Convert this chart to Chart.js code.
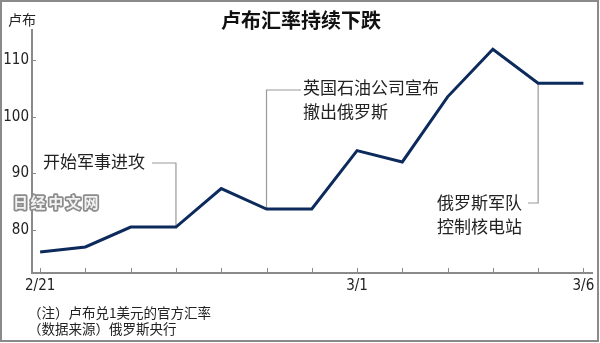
<!DOCTYPE html>
<html>
<head>
<meta charset="utf-8">
<script src="https://cdn.jsdelivr.net/npm/chart.js@4/dist/chart.umd.min.js"></script>
<style>
  html, body { margin: 0; padding: 0; background: #fff; }
  canvas { display: block; }
</style>
</head>
<body>
<canvas id="rubleChart" width="600" height="343"></canvas>
<script>
// ruble per 1 USD, official rate
const tickLabels = ['2/21', '', '', '', '', '', '', '3/1', '', '', '', '', '3/6'];
const rates = [76.1, 77.0, 80.5, 80.5, 87.3, 83.7, 83.7, 94.0, 92.0, 103.5, 111.9, 105.9, 105.9];
const yTicks = [80, 90, 100, 110];

const title = '卢布汇率持续下跌';
const unit = '卢布';
const notes = ['（注）卢布兑1美元的官方汇率', '（数据来源）俄罗斯央行'];
const events = [
  { idx: 3, lines: ['开始军事进攻'] },
  { idx: 5, lines: ['英国石油公司宣布', '撤出俄罗斯'] },
  { idx: 11, lines: ['俄罗斯军队', '控制核电站'] }
];

const CJK = '"Noto Sans CJK SC", "Noto Sans", sans-serif';
const NUM = '"Liberation Sans Narrow", "DejaVu Sans Condensed", sans-serif';
const GREY = '#8a8a8a';

const ctx = document.getElementById('rubleChart').getContext('2d');

// callouts, ticks, texts
const decor = {
  id: 'decor',
  beforeDatasetsDraw(chart) {
    const c = chart.ctx;
    const xs = chart.scales.x, ys = chart.scales.y;
    const area = chart.chartArea;
    const px = i => xs.getPixelForValue(i);
    const py = i => ys.getPixelForValue(rates[i]);

    c.save();
    // tick marks inside the axes
    c.strokeStyle = GREY;
    c.lineWidth = 1;
    tickLabels.forEach((l, i) => {
      const x = Math.round(px(i)) + 0.5;
      c.beginPath();
      c.moveTo(x, area.bottom);
      c.lineTo(x, area.bottom - 5);
      c.stroke();
    });
    yTicks.forEach(v => {
      const y = Math.round(ys.getPixelForValue(v)) + 0.5;
      c.beginPath();
      c.moveTo(area.left, y);
      c.lineTo(area.left + 4, y);
      c.stroke();
    });

    // callout lines
    c.strokeStyle = '#999';
    c.lineWidth = 1.2;
    let e = events[0];
    c.beginPath();
    c.moveTo(152, 163);
    c.lineTo(px(e.idx), 163);
    c.lineTo(px(e.idx), py(e.idx));
    c.stroke();

    e = events[1];
    c.beginPath();
    c.moveTo(px(e.idx), py(e.idx));
    c.lineTo(px(e.idx), 90);
    c.lineTo(301, 90);
    c.stroke();

    e = events[2];
    c.beginPath();
    c.moveTo(px(e.idx), py(e.idx));
    c.lineTo(px(e.idx), 203);
    c.lineTo(528, 203);
    c.stroke();

    // watermark
    c.font = 'bold 15px ' + CJK;
    c.textBaseline = 'middle';
    c.textAlign = 'left';
    c.lineJoin = 'round';
    c.strokeStyle = '#8c8c8c';
    c.lineWidth = 3.5;
    c.fillStyle = '#f2f2f2';
    let wx = 13;
    for (const ch of '日经中文网') {
      c.strokeText(ch, wx, 202);
      c.fillText(ch, wx, 202);
      wx += 17.6;
    }
    c.restore();
  },
  afterDraw(chart) {
    const c = chart.ctx;
    c.save();
    c.fillStyle = '#111';
    c.textBaseline = 'middle';

    c.font = 'bold 20px ' + CJK;
    c.textAlign = 'center';
    c.fillText(title, 301, 20);

    c.font = '14px ' + CJK;
    c.textAlign = 'left';
    c.fillStyle = '#222';
    c.fillText(unit, 8, 20);

    c.font = '17px ' + CJK;
    c.fillText(events[0].lines[0], 43, 162);
    events[1].lines.forEach((t, k) => c.fillText(t, 303, 88 + k * 24));
    events[2].lines.forEach((t, k) => c.fillText(t, 437, 203 + k * 24));

    c.font = '13.5px ' + CJK;
    notes.forEach((t, k) => c.fillText(t, 28, 313 + k * 16));

    // frame
    c.strokeStyle = GREY;
    c.lineWidth = 2;
    c.strokeRect(1, 1, 597, 340);
    c.restore();
  }
};

new Chart(ctx, {
  type: 'line',
  data: {
    datasets: [{
      data: rates.map((v, i) => ({ x: i, y: v })),
      borderColor: '#0c2a5b',
      borderWidth: 3,
      pointRadius: 0,
      tension: 0,
      fill: false
    }]
  },
  options: {
    responsive: false,
    animation: false,
    layout: { padding: { left: 0, right: 8, top: 30, bottom: 0 } },
    plugins: {
      legend: { display: false },
      tooltip: { enabled: false }
    },
    scales: {
      x: {
        type: 'linear',
        min: -0.18,
        max: 12.19,
        afterBuildTicks: s => { s.ticks = tickLabels.map((l, i) => ({ value: i })); },
        afterFit: s => { s.height = 70; },
        grid: { display: false, drawTicks: false },
        border: { color: GREY, width: 2 },
        ticks: {
          autoSkip: false,
          maxRotation: 0,
          padding: 4,
          color: '#222',
          font: { family: NUM, size: 15 },
          callback: v => tickLabels[v]
        }
      },
      y: {
        min: 72.4,
        max: 115.3,
        afterBuildTicks: s => { s.ticks = yTicks.map(v => ({ value: v })); },
        afterFit: s => { s.width = 32; },
        grid: { display: false, drawTicks: false },
        border: { color: GREY, width: 2 },
        ticks: {
          padding: 3,
          color: '#222',
          font: { family: NUM, size: 15 }
        }
      }
    }
  },
  plugins: [decor]
});
</script>
</body>
</html>
